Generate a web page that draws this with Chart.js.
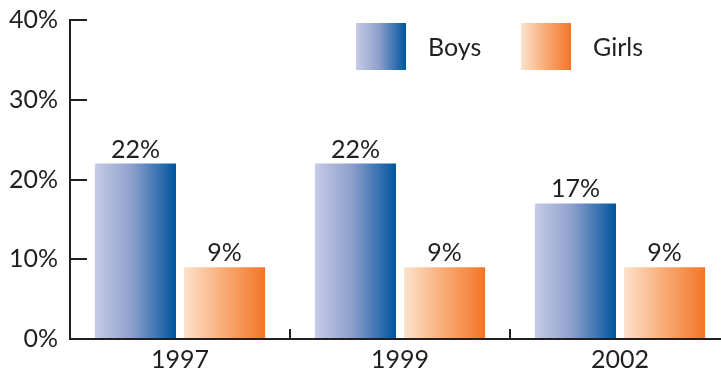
<!DOCTYPE html>
<html>
<head>
<meta charset="utf-8">
<script src="https://cdn.jsdelivr.net/npm/chart.js@4.4.1/dist/chart.umd.min.js"></script>
<style>
  html, body { margin: 0; padding: 0; background: #fff; overflow: hidden; }
  #wrap { width: 721px; height: 372px; overflow: hidden; }
</style>
</head>
<body>
<div id="wrap"><canvas id="chart" width="740" height="372"></canvas></div>
<script>
// Share of pupils, by year and sex
const years = ["1997", "1999", "2002"];
const boys = [22, 22, 17];
const girls = [9, 9, 9];
const yTicks = [0, 10, 20, 30, 40];

const FONT = "Lato, 'DejaVu Sans', sans-serif";
const INK = "#231f20";

const gradients = {
  Boys: ["#c6cbe6", "#8fa0cd", "#00559e"],
  Girls: ["#fde2cb", "#f9b07d", "#f37526"],
};

function makeGradient(ctx, x0, x1, stops) {
  const g = ctx.createLinearGradient(x0, 0, x1, 0);
  g.addColorStop(0, stops[0]);
  g.addColorStop(0.45, stops[1]);
  g.addColorStop(1, stops[2]);
  return g;
}

// paint each bar with its own left-to-right gradient
// (options are shared between bars, so give each bar its own copy)
const barGradient = {
  id: "barGradient",
  beforeDatasetsDraw(chart) {
    const ctx = chart.ctx;
    chart.data.datasets.forEach((ds, i) => {
      chart.getDatasetMeta(i).data.forEach((bar) => {
        const half = bar.width / 2;
        bar.options = Object.assign({}, bar.options, {
          backgroundColor: makeGradient(ctx, bar.x - half, bar.x + half, gradients[ds.label]),
        });
      });
    });
  },
};

// value labels above the bars
const valueLabels = {
  id: "valueLabels",
  afterDatasetsDraw(chart) {
    const ctx = chart.ctx;
    ctx.save();
    ctx.font = "25px " + FONT;
    ctx.fillStyle = INK;
    ctx.textAlign = "center";
    ctx.textBaseline = "alphabetic";
    chart.data.datasets.forEach((ds, i) => {
      chart.getDatasetMeta(i).data.forEach((bar, j) => {
        ctx.fillText(ds.data[j] + "%", bar.x, bar.y - 6);
      });
    });
    ctx.restore();
  },
};

// legend drawn in the top right of the plot
const boxLegend = {
  id: "boxLegend",
  afterDraw(chart) {
    const ctx = chart.ctx;
    const starts = [356, 521];
    ctx.save();
    ctx.font = "25px " + FONT;
    ctx.textBaseline = "middle";
    chart.data.datasets.forEach((ds, i) => {
      const x = starts[i];
      ctx.fillStyle = makeGradient(ctx, x, x + 50, gradients[ds.label]);
      ctx.fillRect(x, 23, 50, 47);
      ctx.fillStyle = INK;
      ctx.fillText(ds.label, x + 72, 48);
    });
    ctx.restore();
  },
};

new Chart(document.getElementById("chart"), {
  type: "bar",
  data: {
    labels: years,
    datasets: [
      { label: "Boys", data: boys },
      { label: "Girls", data: girls },
    ],
  },
  options: {
    responsive: false,
    animation: false,
    events: [],
    categoryPercentage: 0.81,
    barPercentage: 0.91,
    layout: { padding: { top: 20, right: 10, left: 0, bottom: 0 } },
    plugins: {
      legend: { display: false },
      tooltip: { enabled: false },
    },
    scales: {
      x: {
        afterFit(scale) {
          scale.height = 33;
          scale.paddingLeft = 0;
          scale.paddingRight = 0;
        },
        // short upward ticks between the years
        border: {
          color: INK,
          width: 2,
          dash: [10, 1000],
          dashOffset(ctx) {
            const area = ctx.chart.chartArea;
            return 1010 - (area.bottom - area.top - 10);
          },
        },
        grid: {
          offset: true,
          drawTicks: false,
          color: INK,
          lineWidth: 2,
        },
        ticks: {
          color: INK,
          padding: 6,
          font: { family: FONT, size: 25 },
        },
      },
      y: {
        min: 0,
        max: 40,
        afterFit(scale) {
          scale.width = 70;
          scale.paddingTop = 0;
          scale.paddingBottom = 0;
        },
        afterBuildTicks(scale) {
          scale.ticks = yTicks.map((v) => ({ value: v }));
        },
        // short ticks pointing into the plot
        border: { color: INK, width: 2, dash: [16, 2000] },
        grid: {
          drawTicks: false,
          color: INK,
          lineWidth: 2,
        },
        ticks: {
          color: INK,
          padding: 12,
          font: { family: FONT, size: 25 },
          callback: (v) => v + "%",
        },
      },
    },
  },
  plugins: [barGradient, valueLabels, boxLegend],
});
</script>
</body>
</html>
